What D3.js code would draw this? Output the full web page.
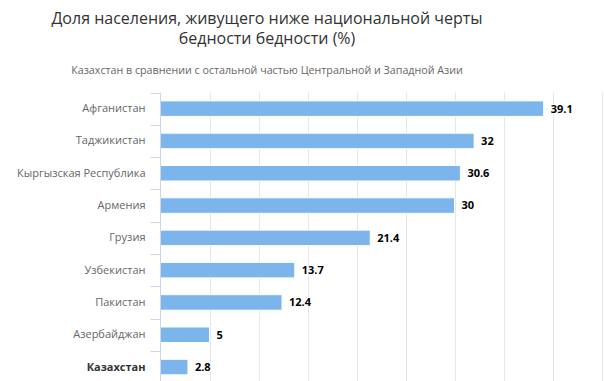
<!DOCTYPE html>
<html>
<head>
    <meta charset="utf-8">
    <title>Poverty line</title>
    <script type="text/javascript" src="https://cdn.jsdelivr.net/npm/d3@7/dist/d3.min.js"></script>
    <style>
        body { margin: 0; background: #fff; }
        text { font-family: "Open Sans", "DejaVu Sans", sans-serif; }
    </style>
</head>

<body>

<script type="text/javascript">
    var categories = ["Афганистан", "Таджикистан", "Кыргызская Республика", "Армения",
            "Грузия", "Узбекистан", "Пакистан", "Азербайджан", "Казахстан"],
        values = [39.1, 32, 30.6, 30, 21.4, 13.7, 12.4, 5, 2.8],
        xTicks = [0, 5, 10, 15, 20, 25, 30, 35, 40, 45],
        highlight = "Казахстан";

    var width = 604,
        height = 381,
        plotLeft = 160.5,
        plotTop = 92.5;

    var svg = d3.select("body").append("svg")
        .attr("width", width)
        .attr("height", height);

    // titles
    var title = svg.append("text")
        .attr("text-anchor", "middle")
        .attr("fill", "#333333")
        .style("font-size", "16px");
    title.append("tspan").attr("x", 267).attr("y", 24)
        .text("Доля населения, живущего ниже национальной черты");
    title.append("tspan").attr("x", 267).attr("y", 44)
        .text("бедности бедности (%)");

    svg.append("text")
        .attr("x", 267).attr("y", 74)
        .attr("text-anchor", "middle")
        .attr("fill", "#666666")
        .style("font-size", "10.7px")
        .text("Казахстан в сравнении с остальной частью Центральной и Западной Азии");

    var x = d3.scaleLinear()
        .domain([0, 45])
        .range([plotLeft, plotLeft + 441]);

    var y = d3.scaleBand()
        .domain(categories)
        .range([plotTop, plotTop + 290.7]);

    // grid
    svg.append("g")
        .selectAll("line")
        .data(xTicks.slice(1))
        .enter().append("line")
        .attr("x1", function (d) { return Math.round(x(d)) + 0.5; })
        .attr("x2", function (d) { return Math.round(x(d)) + 0.5; })
        .attr("y1", plotTop)
        .attr("y2", height)
        .attr("stroke", "#e6e6e6");

    // bars
    var barH = y.bandwidth() * 0.48;
    svg.append("g")
        .selectAll("rect")
        .data(values)
        .enter().append("rect")
        .attr("x", x(0))
        .attr("y", function (d, i) { return y(categories[i]) + (y.bandwidth() - barH) / 2; })
        .attr("width", function (d) { return x(d) - x(0); })
        .attr("height", barH)
        .attr("fill", "#7cb5ec")
        .attr("stroke", "#ffffff")
        .attr("stroke-width", 1);

    // value labels
    svg.append("g")
        .selectAll("text")
        .data(values)
        .enter().append("text")
        .attr("x", function (d) { return x(d) + 7; })
        .attr("y", function (d, i) { return y(categories[i]) + y.bandwidth() / 2; })
        .attr("dy", "0.35em")
        .attr("fill", "#000000")
        .attr("stroke", "#ffffff")
        .attr("stroke-width", 2)
        .attr("paint-order", "stroke")
        .style("font-size", "11px")
        .style("font-weight", "bold")
        .text(function (d) { return d; });

    // category axis
    var yAxis = d3.axisLeft(y).tickSize(0).tickPadding(15);
    var ag = svg.append("g")
        .attr("transform", "translate(" + plotLeft + ",0)")
        .call(yAxis);
    ag.select(".domain").remove();
    ag.selectAll("text")
        .attr("fill", function (d) { return d === highlight ? "#333333" : "#666666"; })
        .style("font-size", "11px")
        .style("font-family", "Open Sans, DejaVu Sans, sans-serif")
        .style("font-weight", function (d) { return d === highlight ? "bold" : "normal"; });

    svg.append("line")
        .attr("x1", plotLeft).attr("x2", plotLeft)
        .attr("y1", plotTop).attr("y2", height)
        .attr("stroke", "#ccd6eb");

    svg.append("g")
        .selectAll("line")
        .data(categories)
        .enter().append("line")
        .attr("x1", plotLeft - 10).attr("x2", plotLeft)
        .attr("y1", function (d) { return Math.round(y(d)) + 0.5; })
        .attr("y2", function (d) { return Math.round(y(d)) + 0.5; })
        .attr("stroke", "#ccd6eb");
</script>

</body>
</html>
